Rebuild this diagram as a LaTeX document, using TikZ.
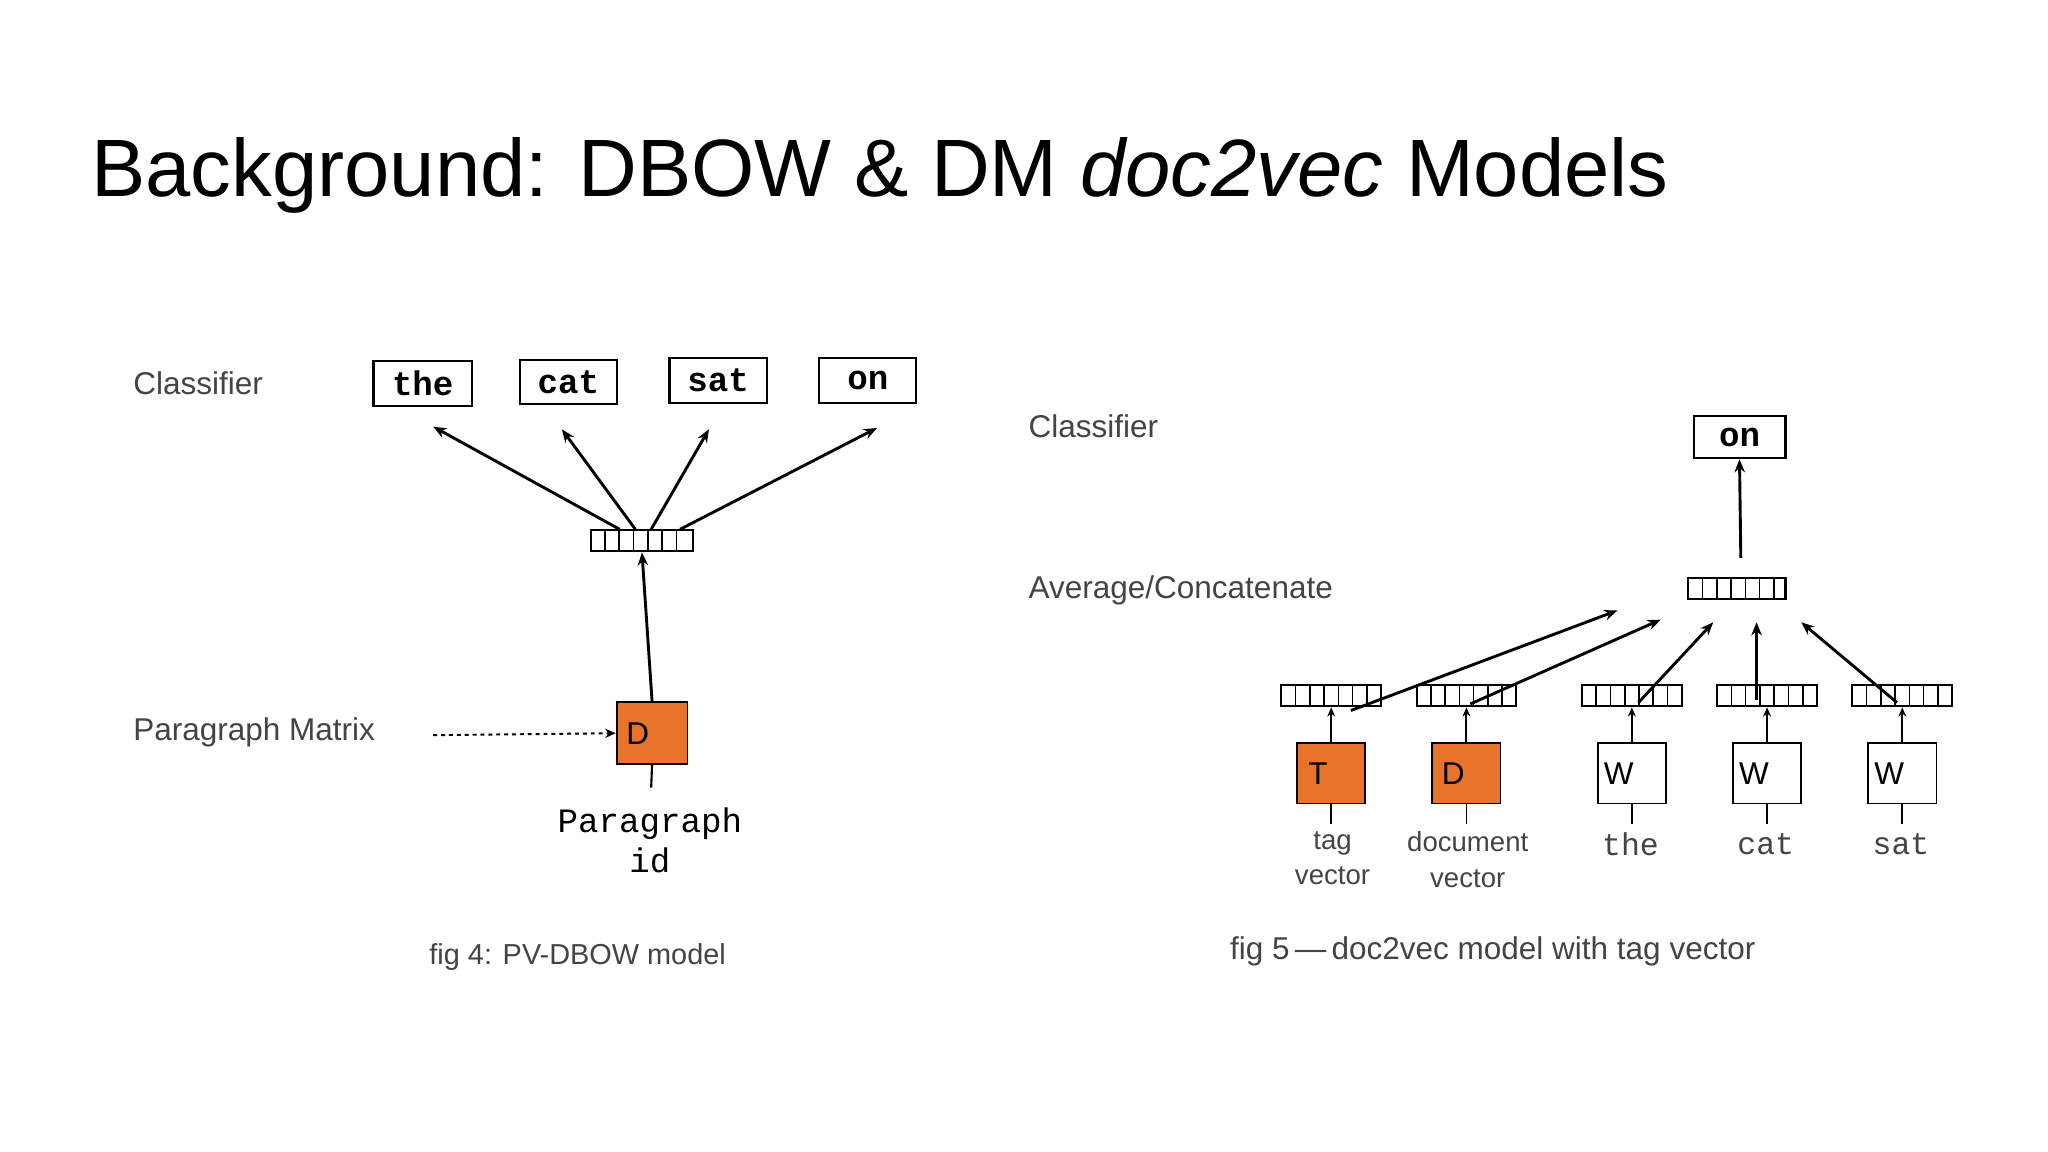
\documentclass[tikz,border=0pt]{standalone}
\usepackage{fontspec}
\setmainfont{Liberation Sans}
\newfontfamily\tw{Liberation Mono}
\usetikzlibrary{arrows.meta}
\definecolor{org}{HTML}{E8742C}
\definecolor{txt}{HTML}{444444}
\begin{document}
\begin{tikzpicture}[x=1pt,y=-1pt,
  word/.style={draw,line width=1.6pt,minimum height=34,inner sep=0,font=\tw\bfseries\fontsize{26}{26}\selectfont},
  lab/.style={anchor=west,text=txt,font=\fontsize{24}{24}\selectfont},
  vec/.style={draw,line width=1.6pt,minimum width=76,minimum height=16,inner sep=0,
    path picture={\foreach \i in {1,...,6}{\draw[line width=1.2pt] ([xshift=\i*76/7]path picture bounding box.south west)--([xshift=\i*76/7]path picture bounding box.north west);}}},
  box/.style={draw,line width=1.4pt,minimum width=52,minimum height=46,inner sep=0,font=\fontsize{24}{24}\selectfont},
  arr/.style={-{Stealth[length=10pt,width=8pt]},line width=2.2pt},
  capt/.style={text=txt,font=\fontsize{22}{22}\selectfont}]
\useasboundingbox (0,0) rectangle (1560,877.5);
\fill[white] (0,0) rectangle (1560,877.5);
\node[anchor=base west,font=\fontsize{62}{62}\selectfont] (title) at (66,150) {Background: DBOW \& DM \textit{doc2vec} Models};
% left
\node[lab] (cl1) at (98,292) {Classifier};
\node[word,minimum width=75] (w1) at (322,292) {the};
\node[word,minimum width=74] (w2) at (433,291) {cat};
\node[word,minimum width=74] (w3) at (547,290) {sat};
\node[word,minimum width=74] (w4) at (661,290) {on};
\node[vec,minimum width=78] (v1) at (489,412) {};
\draw[arr] ([xshift=-17]v1.north) -- (330,325);
\draw[arr] ([xshift=-5]v1.north) -- (428,327);
\draw[arr] ([xshift=7]v1.north) -- (540,327);
\draw[arr] ([xshift=29]v1.north) -- (668,326);
\node[box,fill=org,minimum width=54,minimum height=47,anchor=west] (d1) at (469,558.5) {\hspace*{-22pt}D};
\draw[arr] (d1.north) -- (v1.south);
\coordinate (d1b) at (496,600);
\draw[line width=1.6pt] (d1.south) -- (d1b);
\node[font=\tw\fontsize{26}{30}\selectfont,align=center,anchor=north] (pid) at (495,612) {Paragraph\\id};
\node[lab] (pm) at (98,558) {Paragraph Matrix};
\draw[dashed,line width=1.5pt,-{Stealth[length=8pt,width=7pt,open]}] (330,560) -- (d1.west);
\node[capt] (c1) at (440,729) {fig 4: PV-DBOW model};
% right
\node[lab] (cl2) at (780,325) {Classifier};
\node[lab] (ac) at (780,450) {Average/Concatenate};
\node[word,minimum width=70,minimum height=32] (on) at (1325,333) {on};
\node[vec,minimum width=74] (v2) at (1323,448) {};
\draw[arr] (1326,425) -- (on.south);
\foreach \n/\x/\t/\f in {a/1014/T/org,b/1117/D/org,c/1243/W/white,d/1346/W/white,e/1449/W/white}{
  \node[vec] (v\n) at (\x,530) {};
  \node[box,fill=\f] (b\n) at (\x,589) {\hspace*{-20pt}\t};
  \draw[-{Stealth[length=7pt,width=6pt]},line width=1.6pt] (b\n.north) -- (v\n.south);
  \coordinate (e\n) at (\x,628);
  \draw[line width=1.4pt] (b\n.south) -- (e\n);
}
\draw[arr] ([xshift=15,yshift=-20]va.north) -- (1232,465);
\draw[arr] ([xshift=3,yshift=-15]vb.north) -- (1265,472);
\draw[arr] ([xshift=5,yshift=-14]vc.north) -- (1305,474);
\draw[arr] ([xshift=-8,yshift=-12]vd.north) -- (1338,474);
\draw[arr] ([xshift=-4,yshift=-14]ve.north) -- (1372,474);
\node[text=txt,align=center,font=\fontsize{21}{27}\selectfont,anchor=north] (la) at (1015,630) {tag\\vector};
\node[text=txt,align=center,font=\fontsize{21}{27}\selectfont,anchor=north] (lb) at (1118,630) {document\\vector};
\node[text=txt,font=\tw\fontsize{24}{24}\selectfont] (lc) at (1242,643) {the};
\node[text=txt,font=\tw\fontsize{24}{24}\selectfont] (ld) at (1345,643) {cat};
\node[text=txt,font=\tw\fontsize{24}{24}\selectfont] (le) at (1448,643) {sat};
\node[capt,font=\fontsize{24}{24}\selectfont] (c2) at (1137,725) {fig 5\,—\,doc2vec model with tag vector};
\end{tikzpicture}
\end{document}
